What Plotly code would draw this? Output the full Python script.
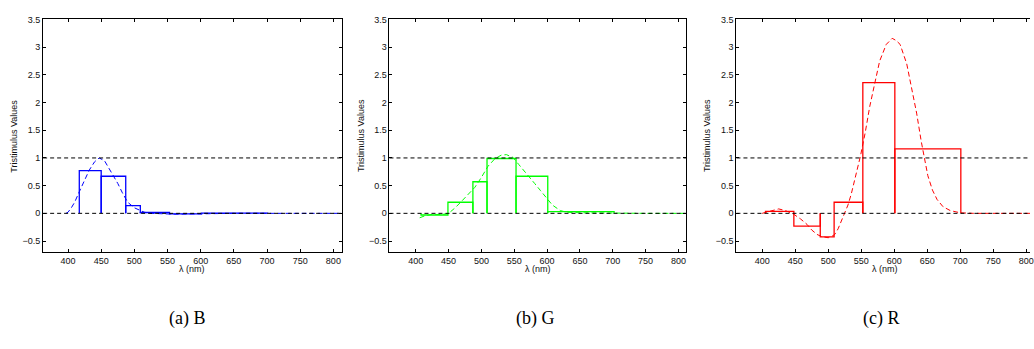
import plotly.graph_objects as go

W, H = 1034, 349

# ---------------- data ----------------
x_ticks = [400, 450, 500, 550, 600, 650, 700, 750, 800]
y_ticks = [-0.5, 0, 0.5, 1, 1.5, 2, 2.5, 3, 3.5]

# (a) B
b_edges = [417, 450, 487, 509, 553, 601, 701]
b_heights = [0.77, 0.67, 0.14, 0.015, -0.01, 0.005]
b_curve_x = [397, 400, 405, 410, 417, 425, 432, 440, 447, 455, 465, 475, 482, 490, 500, 507,
             515, 525, 540, 560, 580, 600, 620, 650, 700, 750, 800, 830]
b_curve_y = [0.0, 0.02, 0.1, 0.2, 0.39, 0.6, 0.78, 0.93, 1.0, 0.95, 0.75, 0.54, 0.37, 0.2, 0.1, 0.06,
             0.02, 0.0, -0.01, -0.015, -0.012, -0.005, 0.0, 0.0, 0.0, 0.0, 0.0, 0.0]

# (b) G
g_edges = [408, 449, 487, 508.5, 552.7, 601, 702]
g_heights = [-0.03, 0.2, 0.57, 0.99, 0.67, 0.03]
g_curve_x = [406, 415, 425, 440, 450, 460, 470, 480, 490, 500, 510, 520, 530, 538, 548, 557, 566,
             575, 581, 590, 596, 608, 620, 630, 650, 700, 750, 800, 830]
g_curve_y = [-0.08, -0.04, -0.02, -0.02, 0.0, 0.1, 0.22, 0.34, 0.47, 0.65, 0.85, 0.98, 1.05, 1.06,
             1.01, 0.88, 0.76, 0.62, 0.54, 0.41, 0.33, 0.15, 0.05, 0.02, 0.01, 0.0, 0.0, 0.0, 0.0]

# (c) R
r_edges = [405, 448, 488, 509, 552.5, 601, 701]
r_heights = [0.035, -0.23, -0.425, 0.2, 2.36, 1.165]
r_curve_x = [400, 410, 420, 425, 435, 447, 458, 468, 475, 483, 490, 500, 505, 510, 515, 520, 525,
             530, 535, 541, 549, 556, 563, 571, 578, 588, 597, 603, 609, 619, 626, 634, 641, 645,
             651, 658, 665, 674, 685, 700, 720, 760, 800, 830]
r_curve_y = [0.0, 0.03, 0.07, 0.08, 0.05, -0.01, -0.1, -0.2, -0.3, -0.38, -0.42, -0.44, -0.42,
             -0.38, -0.28, -0.14, 0.0, 0.15, 0.35, 0.63, 1.04, 1.45, 1.93, 2.37, 2.75, 3.05, 3.16,
             3.12, 3.05, 2.7, 2.28, 1.81, 1.30, 1.02, 0.68, 0.42, 0.25, 0.12, 0.05, 0.01, 0.0, 0.0,
             0.0, 0.0]

captions = ["(a) B", "(b) G", "(c) R"]
colors = ["#0000ff", "#00ff00", "#ff0000"]
x_title = "λ (nm)"
y_title = "Tristimulus Values"

# ---------------- layout geometry (pixels) ----------------
panels = [
    dict(left=43.3, right=343.0, xr=[362.5, 812.5], center=193.0),
    dict(left=391.0, right=689.0, xr=[360.0, 812.0], center=540.0),
    dict(left=739.3, right=1034.0, xr=[361.0, 805.8], center=888.0),
]
top_px, bot_px = 14.7, 250.7


def bar_outline(edges, heights):
    xs, ys = [], []
    for i, h in enumerate(heights):
        x0, x1 = edges[i], edges[i + 1]
        xs += [x0, x0, x1, x1, None]
        ys += [0, h, h, 0, None]
    return xs, ys


fig = go.Figure()
series = [
    (b_edges, b_heights, b_curve_x, b_curve_y),
    (g_edges, g_heights, g_curve_x, g_curve_y),
    (r_edges, r_heights, r_curve_x, r_curve_y),
]

tick_font = dict(family="Liberation Sans, Arial, sans-serif", size=9, color="#111")
annotations = []
shapes = []
layout_axes = {}

for i, (edges, heights, cx, cy) in enumerate(series):
    n = "" if i == 0 else str(i + 1)
    xa, ya = "x" + n, "y" + n
    p = panels[i]
    bx, by = bar_outline(edges, heights)
    fig.add_trace(go.Scatter(x=cx, y=cy, mode="lines", xaxis=xa, yaxis=ya,
                             line=dict(color=colors[i], width=1, dash="5px,3px"),
                             showlegend=False, hoverinfo="skip"))
    fig.add_trace(go.Scatter(x=bx, y=by, mode="lines", xaxis=xa, yaxis=ya,
                             line=dict(color=colors[i], width=1.3),
                             showlegend=False, hoverinfo="skip", connectgaps=False))
    layout_axes["xaxis" + n] = dict(
        domain=[p["left"] / W, p["right"] / W], range=p["xr"], anchor=ya,
        tickvals=x_ticks, ticks="inside", ticklen=3, tickcolor="black",
        showline=True, linecolor="black", linewidth=1, mirror="ticks",
        showgrid=False, zeroline=False, tickfont=tick_font, ticklabeloverflow="allow",
    )
    layout_axes["yaxis" + n] = dict(
        domain=[1 - bot_px / H, 1 - top_px / H], range=[-0.7, 3.5], anchor=xa,
        tickvals=y_ticks, ticks="inside", ticklen=3, tickcolor="black",
        showline=True, linecolor="black", linewidth=1,
        mirror=("ticks" if i < 2 else False),
        showgrid=False, zeroline=False, tickfont=tick_font,
    )
    for yv in (0, 1):
        shapes.append(dict(type="line", xref=xa + " domain", yref=ya, x0=0, x1=1, y0=yv, y1=yv,
                           line=dict(color="black", width=1, dash="4px,3px"), layer="above"))
    annotations.append(dict(text=x_title, xref="paper", yref="paper", x=p["center"] / W,
                            y=1 - 268 / H, showarrow=False, xanchor="center", yanchor="middle",
                            font=dict(family="Liberation Sans, Arial, sans-serif", size=9, color="#111")))
    annotations.append(dict(text=y_title, xref="paper", yref="paper", x=(p["left"] - 29.3) / W,
                            y=1 - ((top_px + bot_px) / 2) / H, showarrow=False, textangle=-90,
                            xanchor="center", yanchor="middle",
                            font=dict(family="Liberation Sans, Arial, sans-serif", size=9, color="#111")))
    annotations.append(dict(text=captions[i], xref="paper", yref="paper",
                            x=[188, 538, 884][i] / W, y=1 - 318 / H, showarrow=False,
                            xanchor="center", yanchor="middle",
                            font=dict(family="Liberation Serif, Times New Roman, serif", size=18,
                                      color="black")))

fig.update_layout(
    width=W, height=H, margin=dict(l=0, r=0, t=0, b=0),
    paper_bgcolor="white", plot_bgcolor="white",
    shapes=shapes, annotations=annotations, **layout_axes,
)

fig.write_html("out.html")
